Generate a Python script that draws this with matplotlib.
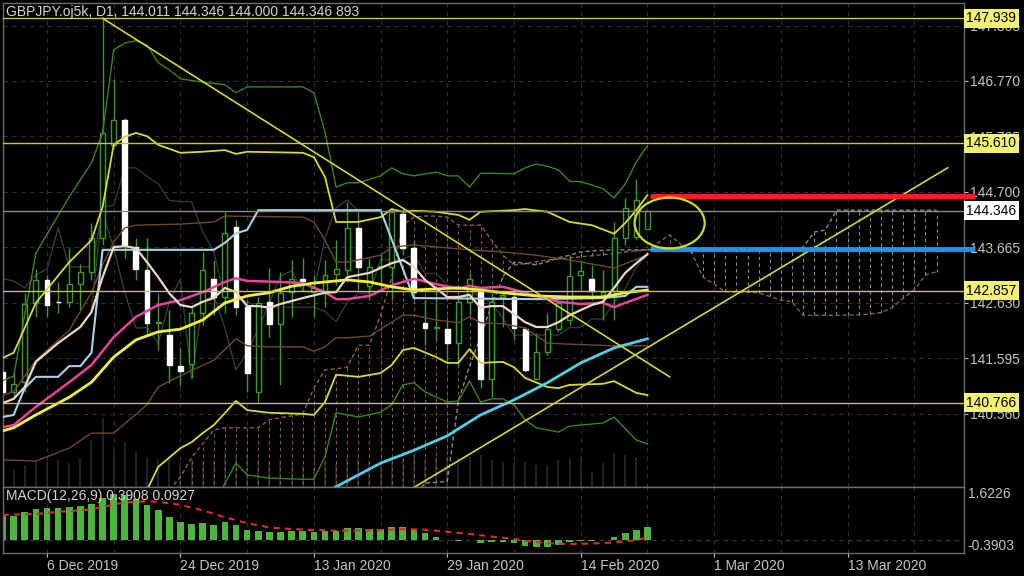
import matplotlib
matplotlib.use("Agg")
import matplotlib.pyplot as plt
from matplotlib.patches import Rectangle, Ellipse
import numpy as np

plt.rcParams['font.family'] = ['Liberation Sans', 'DejaVu Sans']

# ---------------- data ----------------
opens = [141.34, 140.97, 141.15, 142.63, 143.06, 142.65, 142.65, 142.98, 143.21, 143.84,
         145.58, 146.04, 143.67, 143.24, 142.26, 142.03, 141.45, 141.49, 142.44, 143.08,
         142.74, 144.05, 142.55, 140.97, 142.65, 142.24, 142.83, 143.08, 142.83, 142.82,
         143.17, 143.24, 144.03, 142.95, 143.30, 143.30, 144.29, 143.65, 142.26, 142.16,
         142.14, 141.88, 142.65, 142.83, 141.21, 142.74, 142.74, 142.14, 141.21, 141.71,
         142.14, 142.31, 143.15, 143.08, 142.78, 142.85, 143.84, 143.86, 144.011]
highs = [141.47, 141.34, 142.81, 143.26, 143.15, 143.02, 143.65, 143.36, 144.12, 147.94,
         146.81, 146.08, 143.84, 143.84, 142.82, 142.50, 141.81, 142.55, 143.58, 143.43,
         144.33, 144.18, 142.68, 142.74, 143.28, 143.21, 143.43, 143.47, 143.15, 143.43,
         143.80, 144.51, 144.33, 143.47, 143.56, 144.40, 144.40, 143.80, 142.68, 142.87,
         142.31, 142.78, 143.19, 142.93, 142.82, 142.87, 142.87, 142.18, 142.07, 142.44,
         142.68, 143.47, 143.43, 143.34, 143.25, 144.14, 144.59, 144.94, 144.346]
lows = [140.91, 140.89, 140.97, 142.37, 142.37, 142.44, 142.55, 142.50, 143.06, 143.71,
        145.54, 143.47, 143.06, 142.03, 141.75, 141.14, 141.10, 141.23, 142.22, 142.40,
        142.44, 142.40, 140.97, 140.76, 141.99, 141.10, 142.37, 142.87, 142.37, 142.55,
        142.96, 143.02, 142.87, 142.68, 142.87, 142.68, 143.52, 142.68, 141.85, 141.94,
        141.51, 141.44, 142.40, 141.04, 140.87, 142.18, 141.94, 141.34, 141.19, 141.66,
        142.09, 142.22, 142.87, 142.68, 142.31, 142.31, 143.71, 143.80, 144.000]
closes = [140.97, 141.12, 142.61, 143.06, 142.59, 142.64, 142.98, 143.21, 143.84, 145.80,
          146.04, 143.71, 143.26, 142.26, 142.27, 141.47, 141.36, 142.44, 143.24, 142.74,
          143.93, 142.55, 141.32, 142.63, 142.24, 142.82, 143.08, 143.04, 142.91, 143.15,
          143.26, 144.03, 143.30, 143.30, 143.31, 144.33, 143.65, 142.83, 142.16, 142.17,
          141.88, 142.65, 143.08, 141.21, 142.65, 142.78, 142.16, 141.38, 141.71, 142.14,
          142.63, 143.13, 143.23, 142.85, 142.83, 143.84, 144.40, 144.55, 144.346]
volumes_k = [21, 24, 31, 36, 36, 39, 34, 41, 67, 99, 57, 64, 50, 43, 40, 43, 36, 40, 37, 39,
             50, 43, 47, 40, 36, 39, 34, 31, 29, 36, 34, 43, 40, 36, 34, 43, 39, 46, 40, 43,
             43, 43, 43, 46, 39, 36, 36, 36, 31, 31, 39, 41, 43, 21, 34, 49, 46, 43, 0.893]

# Bollinger bands (3, 2, 1 sigma) and middle line: (bar, price)
bb3u_x = [0, 1, 3, 6, 8, 9, 10, 11, 12, 13, 14, 15, 16, 18, 20, 21, 22, 27, 28, 29, 30, 31, 32, 34, 35,
          36, 37, 39, 40, 41, 42, 43, 46, 47, 48, 49, 50, 51, 52, 53, 54, 55, 56, 57, 58]
bb3u_y = [141.18, 141.26, 143.56, 144.61, 145.24, 145.80, 147.35, 147.48, 147.52, 147.44, 147.11,
          146.98, 146.81, 146.75, 146.70, 146.55, 146.66, 146.66, 146.55, 145.82, 144.79, 144.87,
          144.87, 145.00, 145.15, 145.04, 145.00, 145.07, 145.00, 145.00, 144.79, 145.05, 145.04,
          145.15, 145.22, 145.18, 145.11, 144.90, 144.89, 144.83, 144.76, 144.59, 144.85, 145.26, 145.56]
bb2u_x = [0, 1, 3, 6, 8, 9, 10, 11, 12, 13, 14, 16, 18, 20, 21, 22, 27, 28, 29, 30, 32, 34, 35, 36, 37,
          39, 41, 42, 43, 46, 47, 49, 51, 53, 55, 56, 57, 58]
bb2u_y = [141.60, 141.70, 142.63, 143.39, 143.80, 144.42, 145.58, 145.73, 145.80, 145.74, 145.58,
          145.43, 145.45, 145.48, 145.41, 145.45, 145.43, 145.35, 144.98, 144.14, 144.14, 144.23,
          144.38, 144.33, 144.35, 144.33, 144.27, 144.18, 144.33, 144.36, 144.38, 144.33, 144.14,
          144.08, 143.92, 144.12, 144.36, 144.64]
bb1u_x = [0, 1, 3, 6, 8, 9, 10, 11, 12, 16, 19, 20, 27, 28, 29, 30, 31, 34, 35, 37, 42, 45, 48, 51, 55, 58]
bb1u_y = [140.91, 140.97, 141.56, 142.12, 142.82, 143.34, 143.77, 144.03, 144.08, 144.10, 144.14,
          144.25, 144.23, 144.14, 143.80, 143.39, 143.39, 143.52, 143.67, 143.71, 143.62, 143.58,
          143.52, 143.43, 143.28, 143.52]
bbmid_x = [0, 1, 3, 6, 8, 10, 12, 14, 16, 18, 20, 21, 22, 25, 27, 29, 30, 31, 33, 35, 37, 39, 41, 42,
           43, 45, 47, 50, 52, 54, 55, 56, 58]
bbmid_y = [140.31, 140.35, 140.69, 141.15, 141.47, 141.99, 142.37, 142.59, 142.68, 142.83, 143.02,
           143.09, 143.04, 143.02, 143.00, 142.83, 142.70, 142.70, 142.76, 142.96, 143.08, 142.98,
           142.89, 142.95, 142.91, 142.93, 142.82, 142.65, 142.61, 142.63, 142.55, 142.63, 142.78]
bb1l_x = [0, 3, 6, 8, 10, 13, 14, 16, 19, 21, 22, 24, 27, 28, 29, 30, 31, 33, 35, 36, 37, 39, 41, 42,
          43, 45, 47, 49, 51, 55, 58]
bb1l_y = [139.70, 139.68, 139.92, 140.20, 140.20, 140.73, 141.06, 141.27, 141.56, 141.96, 141.83,
          141.81, 141.81, 141.73, 141.81, 141.98, 141.98, 142.01, 142.27, 142.40, 142.40, 142.31,
          142.26, 142.37, 142.26, 142.24, 142.16, 141.88, 141.86, 141.83, 141.83]
bb2l_x = [11, 13, 14, 16, 17, 18, 19, 21, 22, 24, 27, 28, 29, 30, 32, 34, 35, 36, 37, 39, 40, 41, 42,
          43, 45, 46, 47, 49, 50, 51, 54, 55, 57, 58]
bb2l_y = [138.50, 139.14, 139.57, 139.92, 140.03, 140.20, 140.35, 140.80, 140.63, 140.58, 140.56,
          140.54, 140.78, 141.29, 141.25, 141.32, 141.47, 141.75, 141.79, 141.62, 141.51, 141.51,
          141.77, 141.51, 141.53, 141.43, 141.23, 141.06, 141.04, 141.10, 141.12, 141.17, 140.95,
          140.91]
bb3l_x = [18, 21, 22, 24, 27, 28, 29, 30, 32, 34, 35, 36, 37, 38, 40, 41, 42, 43, 44, 45, 46, 47, 48,
          50, 51, 54, 55, 57, 58]
bb3l_y = [138.50, 139.64, 139.42, 139.36, 139.34, 139.34, 139.76, 140.58, 140.50, 140.59, 140.73,
          141.10, 141.14, 140.97, 140.78, 140.80, 141.17, 140.78, 140.84, 140.84, 140.73, 140.45,
          140.30, 140.22, 140.33, 140.39, 140.50, 140.07, 140.00]

# moving averages
ma_yellow_x = [0, 1, 3, 6, 8, 10, 12, 14, 16, 18, 20, 22, 24, 26, 28, 30, 31, 33, 35, 37, 41, 43, 45,
               48, 51, 54, 56, 58]
ma_yellow_y = [140.24, 140.30, 140.54, 140.87, 141.15, 141.62, 141.94, 142.09, 142.14, 142.31,
               142.63, 142.76, 142.82, 142.94, 143.00, 143.04, 143.06, 143.02, 142.93, 142.87,
               142.91, 142.87, 142.82, 142.76, 142.74, 142.74, 142.82, 142.87]
ma_beige_x = [0, 1, 2, 3, 5, 7, 8, 9, 10, 11, 12, 13, 14, 15, 16, 17, 18, 19, 20, 21, 22, 23, 24, 25,
              27, 29, 30, 31, 33, 34, 35, 36, 37, 38, 40, 41, 42, 43, 44, 45, 47, 48, 49, 50, 51, 53,
              54, 55, 56, 57, 58]
ma_beige_y = [140.76, 140.84, 141.06, 141.53, 141.88, 142.18, 142.46, 143.11, 143.67, 143.69,
              143.65, 143.39, 143.11, 142.81, 142.59, 142.55, 142.65, 142.72, 142.91, 142.83,
              142.57, 142.57, 142.54, 142.61, 142.72, 142.82, 142.83, 143.11, 143.19, 143.28,
              143.37, 143.43, 143.30, 143.06, 142.74, 142.74, 142.78, 142.54, 142.57, 142.57,
              142.27, 142.18, 142.18, 142.27, 142.40, 142.59, 142.65, 142.91, 143.19, 143.37, 143.54]
ma_cyan_x = [28, 30, 34, 37, 40, 43, 46, 49, 52, 55, 58]
ma_cyan_y = [138.95, 139.20, 139.64, 139.88, 140.15, 140.54, 140.82, 141.14, 141.51, 141.79, 141.96]

# Ichimoku
kijun_x = [0, 1, 2, 3, 5, 6, 7, 8, 9, 19, 20, 21, 22, 23, 34, 37, 48, 54, 56, 57, 58]
kijun_y = [140.50, 140.54, 141.04, 141.25, 141.25, 141.45, 141.45, 141.70, 143.62, 143.62, 143.75,
           143.93, 143.99, 144.36, 144.36, 142.72, 142.70, 142.72, 142.76, 142.93, 142.93]
tenkan_start = 8
tenkan = [142.50, 144.42, 144.45, 145.15, 145.15, 144.99, 144.85, 144.54, 144.52, 144.52, 143.96,
          143.59, 142.72, 142.72, 142.65, 142.55, 142.55, 142.55, 142.55, 142.55, 142.55, 142.47,
          142.28, 142.64, 142.81, 142.81, 143.44, 143.44, 143.44, 143.53, 143.18, 143.18, 142.96,
          142.92, 142.92, 142.72, 142.64, 142.34, 142.03, 142.03, 142.03, 142.03, 142.03, 142.17,
          142.17, 142.33, 142.33, 142.64, 142.89, 143.30, 143.52]
chikou_shift = 26
span_start = 15
span_a = [139.14, 139.38, 139.74, 140.00, 140.26, 140.30, 140.30, 140.30, 140.30, 140.45,
          140.49, 140.52, 140.56, 141.04, 141.38, 141.40, 141.43, 141.84, 141.84, 142.40,
          143.10, 144.08, 144.23, 144.25, 144.25, 144.23, 144.08, 144.08, 144.08, 143.80,
          143.52, 143.34, 143.36, 143.40, 143.43, 143.45, 143.47, 143.49, 143.51, 143.53,
          143.55, 143.58, 143.60, 143.62, 143.76, 143.90, 143.72, 143.56, 143.11, 142.98,
          142.84, 142.83, 142.83, 142.82, 142.75, 142.68, 142.65, 142.40, 142.40, 142.40,
          142.40, 142.40, 142.41, 142.42, 142.45, 142.54, 142.72, 142.87, 143.15, 143.21]
span_b = [138.50] * 21 + [
          138.80, 139.00, 139.27, 139.28, 139.30, 140.80, 141.45, 142.00, 142.60, 143.11,
          143.39, 143.37, 143.34, 143.40, 143.47, 143.52, 143.58, 143.60, 143.61, 143.62,
          143.62, 143.62, 143.62, 143.62, 143.62, 143.62, 143.62, 143.62, 143.62, 143.62,
          143.62, 143.62, 143.62, 143.62, 143.62, 143.62, 143.67, 143.95, 143.99,
          144.36, 144.36, 144.36, 144.36, 144.36, 144.36, 144.36, 144.36, 144.36, 144.36]

# MACD
macd_hist = [0.77, 0.75, 0.86, 0.94, 0.98, 0.99, 1.02, 1.05, 1.10, 1.29, 1.42, 1.37, 1.25, 1.06,
             0.91, 0.72, 0.55, 0.50, 0.52, 0.47, 0.55, 0.47, 0.32, 0.29, 0.24, 0.26, 0.27, 0.28,
             0.26, 0.28, 0.29, 0.36, 0.36, 0.34, 0.34, 0.39, 0.39, 0.34, 0.22, 0.11, 0.01, -0.01,
             0.02, -0.09, -0.07, -0.07, -0.09, -0.18, -0.21, -0.21, -0.15, -0.07, -0.01, -0.01,
             0.01, 0.11, 0.22, 0.32, 0.3908]
signal_x = [0, 3, 6, 8, 10, 11, 13, 14, 16, 18, 20, 22, 24, 26, 28, 30, 32, 34, 36, 38, 40, 42, 44,
            46, 47, 49, 51, 53, 55, 57, 58]
signal_y = [0.77, 0.80, 0.89, 0.94, 1.09, 1.15, 1.19, 1.17, 1.08, 0.91, 0.70, 0.52, 0.39, 0.34, 0.31,
            0.29, 0.29, 0.31, 0.34, 0.32, 0.26, 0.19, 0.11, 0.04, -0.02, -0.09, -0.12, -0.10, -0.07,
            0.0, 0.0927]

# levels and drawings
yellow_levels = [147.939, 145.610, 142.857, 140.766]
bid_price = 144.346
red_level = 144.62
blue_level = 143.63
level_start = 58.2
trend_down_x = [9.0, 60.0]
trend_down_y = [147.94, 141.25]
trend_up_x = [36.3, 85.0]
trend_up_y = [139.10, 145.15]
ellipse_center = (60.0, 144.12)
ellipse_size = (6.3, 0.95)

price_ticks = [147.805, 146.770, 145.735, 144.700, 143.665, 142.630, 141.595, 140.560]
date_ticks = [4, 16, 28, 40, 52, 64, 76]
date_labels = ['6 Dec 2019', '24 Dec 2019', '13 Jan 2020', '29 Jan 2020', '14 Feb 2020',
               '1 Mar 2020', '13 Mar 2020']
macd_range = (-0.3903, 1.6226)
title = 'GBPJPY.oj5k, D1, 144.011 144.346 144.000 144.346 893'
macd_title = 'MACD(12,26,9) 0.3908 0.0927'

# ---------------- drawing ----------------
W, H = 1024, 576
fig = plt.figure(figsize=(W / 100, H / 100), dpi=100, facecolor='black')
L, R = 3, 964
ax = fig.add_axes([L / W, (H - 487) / H, (R - L) / W, 484 / H], facecolor='black')
axm = fig.add_axes([L / W, (H - 553) / H, (R - L) / W, 66 / H], facecolor='black', sharex=ax)

XMIN, XMAX = 0.045, 86.47
ax.set_xlim(XMIN, XMAX)
ax.set_ylim(139.195, 148.225)
axm.set_ylim(*macd_range)

spine_c = '#6e6e6e'
for a in (ax, axm):
    for s in a.spines.values():
        s.set_color(spine_c)
        s.set_linewidth(1.0)

grid_c = '#303030'
vgrid = np.arange(4, 87, 6)
for g in vgrid:
    ax.axvline(g, color=grid_c, lw=0.8, ls=(0, (4, 4)), zorder=0)
    axm.axvline(g, color=grid_c, lw=0.8, ls=(0, (4, 4)), zorder=0)
for p in price_ticks:
    ax.axhline(p, color=grid_c, lw=0.8, ls=(0, (4, 4)), zorder=0)
axm.axhline(0, color='#3a3a3a', lw=0.8, ls=(0, (4, 4)), zorder=0)

n = len(closes)
idx = np.arange(n)

# volume (bottom strip)
VMAX = 691.0
ax.vlines(idx, 0, np.array(volumes_k) / VMAX, transform=ax.get_xaxis_transform(),
          color='#2a2a2a', lw=1.2, zorder=1)

# Ichimoku cloud hatching
sa = np.array(span_a)
sb = np.array(span_b)
sx = np.arange(span_start, span_start + len(sa))
for x, a_, b_ in zip(sx, sa, sb):
    top, bot = max(a_, b_), min(a_, b_)
    col = '#8a5a2e' if a_ >= b_ else '#8c8c8c'
    ax.vlines(x, bot, top, color=col, lw=0.8, ls=(0, (3, 3)), zorder=1.5)
ax.plot(sx, sa, color='#8a6040', lw=1.0, ls=(0, (3, 2)), zorder=2)
bmask = sb > 138.6
ax.plot(sx[bmask], sb[bmask], color='#8a8a8a', lw=1.0, ls=(0, (3, 2)), zorder=2)

# candles
wick_c = '#3a9a28'
for i in idx:
    o, h, l, c = opens[i], highs[i], lows[i], closes[i]
    ax.vlines(i, l, h, color=wick_c, lw=1.0, zorder=3)
    bot = min(o, c)
    ht = max(abs(c - o), 0.012)
    if c >= o:
        ax.add_patch(Rectangle((i - 0.22, bot), 0.44, ht, fc='black', ec=wick_c, lw=1.0, zorder=3.5))
    else:
        ax.add_patch(Rectangle((i - 0.22, bot), 0.44, ht, fc='white', ec='white', lw=1.0, zorder=3.5))

# chikou and tenkan (dark grey)
ax.plot(idx[:n - chikou_shift], closes[chikou_shift:], color='#3a3a3a', lw=1.0, zorder=2.5)
ax.plot(np.arange(tenkan_start, tenkan_start + len(tenkan)), tenkan, color='#363636', lw=1.0, zorder=2.5)

# Bollinger bands
ax.plot(bb3u_x, bb3u_y, color='#37861f', lw=1.0, zorder=4)
ax.plot(bb3l_x, bb3l_y, color='#37861f', lw=1.0, zorder=4)
ax.plot(bb2u_x, bb2u_y, color='#d8d838', lw=1.3, zorder=4)
ax.plot(bb2l_x, bb2l_y, color='#d8d838', lw=1.3, zorder=4)
ax.plot(bb1u_x, bb1u_y, color='#6e4a28', lw=1.0, zorder=4)
ax.plot(bb1l_x, bb1l_y, color='#6e4a28', lw=1.0, zorder=4)
ax.plot(bbmid_x, bbmid_y, color='#e8449c', lw=1.8, zorder=4.2)

# moving averages / kijun
ax.plot(kijun_x, kijun_y, color='#a8d4e6', lw=1.5, zorder=4.1)
ax.plot(ma_yellow_x, ma_yellow_y, color='#f2f23c', lw=2.0, zorder=4.3)
ax.plot(ma_beige_x, ma_beige_y, color='#ecd8c4', lw=1.6, zorder=4.4)
ax.plot(ma_cyan_x, ma_cyan_y, color='#52cfe6', lw=2.0, zorder=4.3)

# horizontal levels
for lv in yellow_levels:
    ax.axhline(lv, color='#c8c83c', lw=1.0, zorder=5)
ax.axhline(bid_price, color='#8a8a8a', lw=1.0, zorder=5)
ax.hlines(red_level, level_start, XMAX + 1, color='#ff2020', lw=3.5, zorder=6, clip_on=False)
ax.hlines(blue_level, level_start, XMAX + 1, color='#1e96e6', lw=3.5, zorder=6, clip_on=False)

# trend lines and ellipse
ax.plot(trend_down_x, trend_down_y, color='#d4d43a', lw=1.2, zorder=5.5)
ax.plot(trend_up_x, trend_up_y, color='#d4d43a', lw=1.2, zorder=5.5)
ax.add_patch(Ellipse(ellipse_center, ellipse_size[0], ellipse_size[1], fill=False,
                     ec='#c8dc28', lw=1.6, zorder=6))

# right price axis
ax.yaxis.tick_right()
ax.set_yticks(price_ticks)
ax.set_yticklabels([f'{p:.3f}' for p in price_ticks])
ax.tick_params(axis='y', colors='#c4c4c4', labelsize=10, length=3, width=0.8, pad=1.5)
ax.tick_params(axis='x', bottom=False, labelbottom=False)
ytr = ax.get_yaxis_transform()
for lv in yellow_levels:
    ax.text(1.0025, lv, f'{lv:.3f}', transform=ytr, va='center', ha='left', fontsize=10,
            color='black', zorder=20, clip_on=False,
            bbox=dict(boxstyle='square,pad=0.18', fc='#f2f272', ec='none'))
ax.text(1.0025, bid_price, f'{bid_price:.3f}', transform=ytr, va='center', ha='left', fontsize=10,
        color='black', zorder=20, clip_on=False,
        bbox=dict(boxstyle='square,pad=0.18', fc='white', ec='none'))

# MACD
axm.bar(idx, macd_hist, width=0.6, color='#4cb63c', zorder=2)
axm.plot(signal_x, signal_y, color='#e02a2a', lw=1.5, ls=(0, (3, 2.5)), zorder=3)
axm.set_yticks([])
axm.tick_params(axis='y', right=False, left=False, labelleft=False)
mtr = axm.get_yaxis_transform()
axm.text(1.004, macd_range[1], '1.6226', transform=mtr, va='top', ha='left', fontsize=10,
         color='#c4c4c4', clip_on=False)
axm.text(1.004, macd_range[0], '-0.3903', transform=mtr, va='bottom', ha='left', fontsize=10,
         color='#c4c4c4', clip_on=False)
axm.set_xticks(date_ticks)
axm.set_xticklabels(date_labels)
axm.tick_params(axis='x', colors='#c4c4c4', labelsize=10, length=3, width=0.8, pad=1)
for lbl in axm.get_xticklabels():
    lbl.set_horizontalalignment('left')

fig.text(6 / W, 1 - 12 / H, title, color='#d4d4d4', fontsize=10, va='center', ha='left')
fig.text(6 / W, 1 - 496 / H, macd_title, color='#d4d4d4', fontsize=10, va='center', ha='left')

fig.savefig('out.png', dpi=100, facecolor='black')
